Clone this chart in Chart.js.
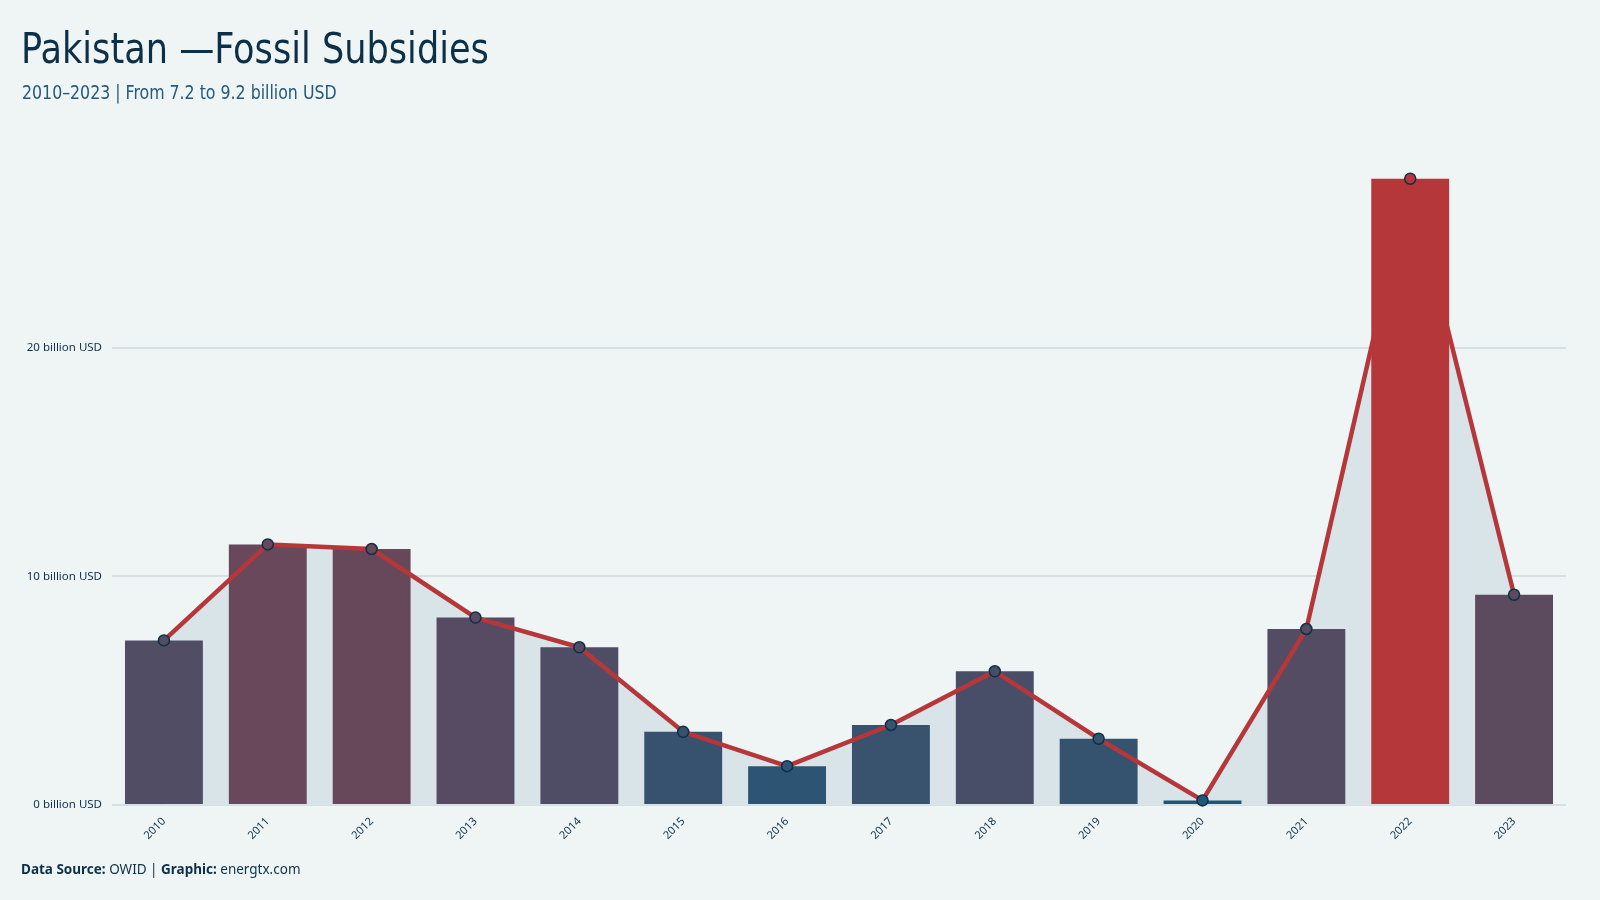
<!DOCTYPE html>
<html>
<head>
<meta charset="utf-8">
<script src="https://cdn.jsdelivr.net/npm/chart.js@4"></script>
<style>
    body { margin: 0; background: #eff5f5; }
    #wrap { position: relative; width: 1600px; height: 900px; background: #eff5f5; }
    #title { position: absolute; left: 21px; top: 24px; font-family: "DejaVu Sans Condensed", sans-serif; font-size: 42px; color: #0d3049; transform: scaleX(0.93); transform-origin: left top; white-space: nowrap; }
    #subtitle { position: absolute; left: 22px; top: 81px; font-family: "DejaVu Sans Condensed", sans-serif; font-size: 19.5px; color: #245a7a; transform: scaleX(0.9); transform-origin: left top; white-space: nowrap; }
    #footer { position: absolute; left: 21px; top: 860px; font-family: "Noto Sans", sans-serif; font-size: 13.5px; color: #0d3049; }
    #footer b { font-weight: 700; }
    canvas { position: absolute; left: 0; top: 0; }
</style>
</head>
<body>
<div id="wrap">
    <canvas id="subsidyChart" width="1600" height="900"></canvas>
    <div id="title">Pakistan —Fossil Subsidies</div>
    <div id="subtitle">2010–2023 | From 7.2 to 9.2 billion USD</div>
    <div id="footer"><b>Data Source:</b> OWID | <b>Graphic:</b> energtx.com</div>
</div>
<script>
    const years = ['2010', '2011', '2012', '2013', '2014', '2015', '2016', '2017', '2018', '2019', '2020', '2021', '2022', '2023'];
    const subsidies = [7.2, 11.4, 11.2, 8.2, 6.9, 3.2, 1.7, 3.5, 5.85, 2.9, 0.2, 7.7, 27.4, 9.2];
    const yTicks = [0, 10, 20];

    // blend from blue (low) to red (high) according to the value
    const low = [28, 88, 122];
    const high = [181, 55, 58];
    const maxVal = Math.max(...subsidies);
    function barColor(v) {
        const t = Math.pow(v / maxVal, 0.8);
        const c = low.map((l, i) => Math.round(l + (high[i] - l) * t));
        return `rgb(${c[0]}, ${c[1]}, ${c[2]})`;
    }
    const colors = subsidies.map(barColor);

    const ctx = document.getElementById('subsidyChart').getContext('2d');
    const subsidyChart = new Chart(ctx, {
        data: {
            labels: years,
            datasets: [{
                type: 'line',
                data: subsidies,
                borderColor: '#b5373a',
                borderWidth: 4.5,
                borderJoinStyle: 'round',
                backgroundColor: '#d9e4e9',
                fill: 'origin',
                tension: 0,
                pointRadius: 5.5,
                pointBorderWidth: 1.5,
                pointBorderColor: '#0d3049',
                pointBackgroundColor: colors,
                clip: false,
                order: 0
            }, {
                type: 'bar',
                data: subsidies,
                backgroundColor: colors,
                barPercentage: 0.75,
                categoryPercentage: 1,
                order: 1
            }]
        },
        options: {
            responsive: false,
            animation: false,
            layout: {
                padding: { top: 165, right: 34, bottom: 0, left: 0 }
            },
            plugins: {
                legend: { display: false },
                tooltip: { enabled: false },
                filler: { drawTime: 'beforeDatasetsDraw' }
            },
            scales: {
                x: {
                    offset: true,
                    grid: { display: false },
                    border: { display: false },
                    ticks: {
                        maxRotation: 45,
                        minRotation: 45,
                        color: '#0d3049',
                        font: { family: 'Noto Sans', size: 11 },
                        padding: 2
                    },
                    afterFit: function(scale) { scale.height = 95; }
                },
                y: {
                    min: 0,
                    max: 28,
                    afterBuildTicks: function(scale) {
                        scale.ticks = yTicks.map(v => ({ value: v }));
                    },
                    grid: {
                        color: '#d5e0e5',
                        lineWidth: 2,
                        drawTicks: false
                    },
                    border: { display: false },
                    ticks: {
                        color: '#0d3049',
                        font: { family: 'Noto Sans', size: 11.5 },
                        padding: 10,
                        callback: function(v) { return v + ' billion USD'; }
                    },
                    afterFit: function(scale) { scale.width = 112; }
                }
            }
        }
    });
</script>
</body>
</html>
